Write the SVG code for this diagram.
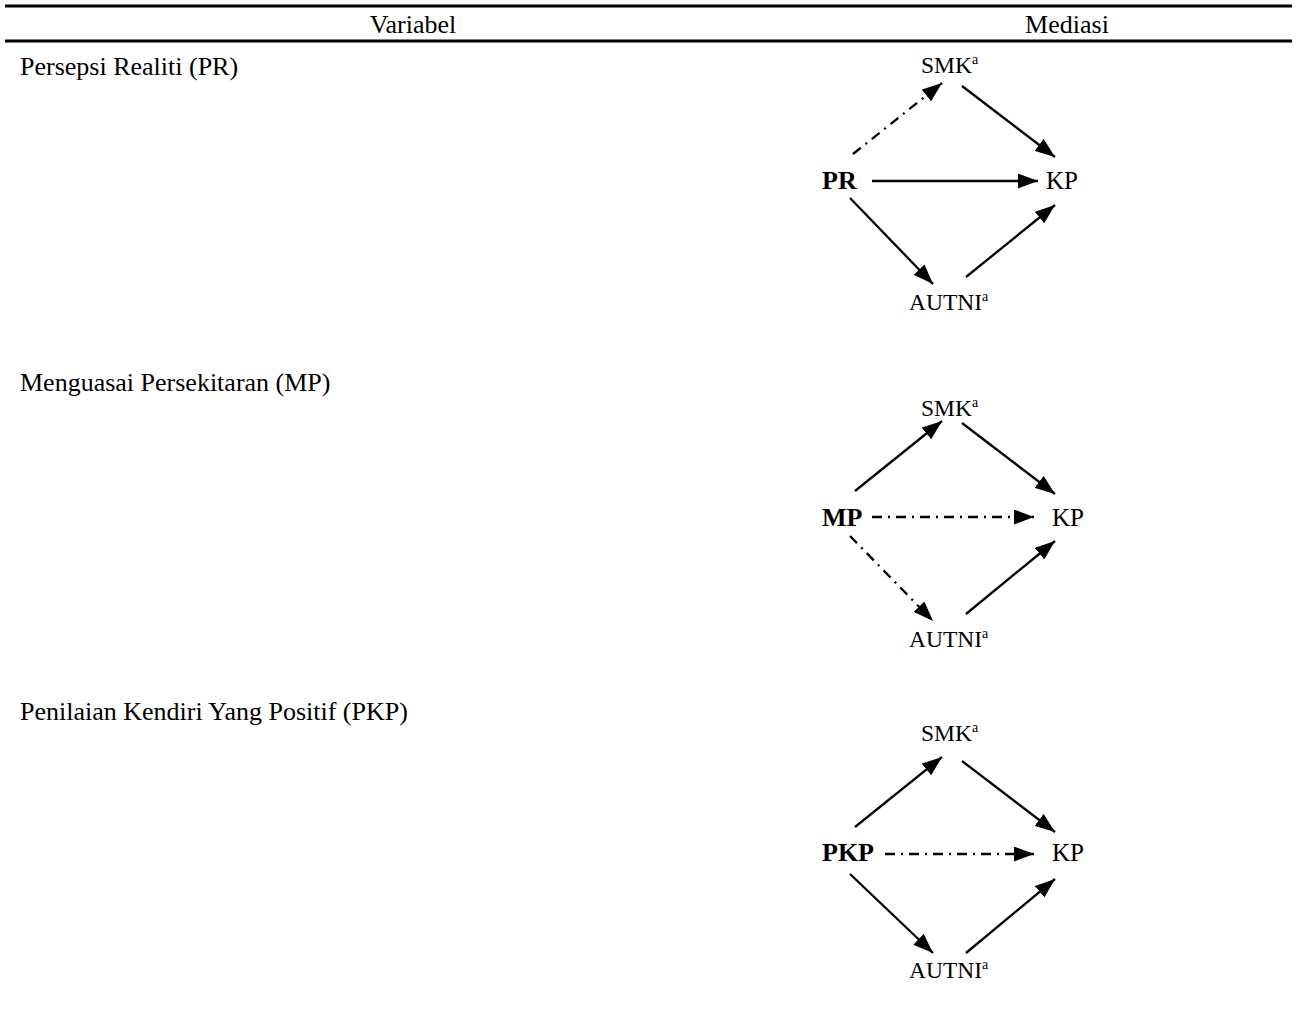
<svg xmlns="http://www.w3.org/2000/svg" width="1297" height="1017" viewBox="0 0 1297 1017">
<style>
text{font-family:"Liberation Serif","Times New Roman",serif;fill:#000}
.hdr{font-size:26px}
.lbl{font-size:26px}
.nd{font-size:23.5px}
.kp{font-size:25px}
.b{font-weight:bold;font-size:26px}
.sup{font-size:14px}
.rule{stroke:#000;stroke-width:3}
.ln{stroke:#000;stroke-width:2.3;fill:none}
.dd{stroke-dasharray:10 6 2 6}
</style>
<defs>
<marker id="ah" viewBox="0 0 20 15" refX="20" refY="7.5" markerWidth="20" markerHeight="15" markerUnits="userSpaceOnUse" orient="auto">
<path d="M0,0 L20,7.5 L0,15 z" fill="#000"/>
</marker>
</defs>
<rect width="1297" height="1017" fill="#fff"/>
<g id="header">
<line class="rule" x1="5" y1="6" x2="1292" y2="6"/>
<text class="hdr" x="413" y="33" text-anchor="middle">Variabel</text>
<text class="hdr" x="1067" y="33" text-anchor="middle">Mediasi</text>
<line class="rule" x1="5" y1="41" x2="1292" y2="41"/>
</g>
<g id="row-labels">
<text class="lbl" x="20" y="75">Persepsi Realiti (PR)</text>
<text class="lbl" x="20" y="391">Menguasai Persekitaran (MP)</text>
<text class="lbl" x="20" y="720">Penilaian Kendiri Yang Positif (PKP)</text>
</g>
<g id="d1-SMK"><text class="nd" x="921" y="73">SMK<tspan class="sup" dy="-9">a</tspan></text></g>
<g id="d1-PR"><text class="b" x="822" y="189">PR</text></g>
<g id="d1-KP"><text class="kp" x="1046" y="189">KP</text></g>
<g id="d1-AUTNI"><text class="nd" x="909" y="310">AUTNI<tspan class="sup" dy="-9">a</tspan></text></g>
<g id="d2-SMK"><text class="nd" x="921" y="416">SMK<tspan class="sup" dy="-9">a</tspan></text></g>
<g id="d2-MP"><text class="b" x="822" y="526">MP</text></g>
<g id="d2-KP"><text class="kp" x="1052" y="526">KP</text></g>
<g id="d2-AUTNI"><text class="nd" x="909" y="647">AUTNI<tspan class="sup" dy="-9">a</tspan></text></g>
<g id="d3-SMK"><text class="nd" x="921" y="741">SMK<tspan class="sup" dy="-9">a</tspan></text></g>
<g id="d3-PKP"><text class="b" x="822" y="861">PKP</text></g>
<g id="d3-KP"><text class="kp" x="1052" y="861">KP</text></g>
<g id="d3-AUTNI"><text class="nd" x="909" y="978">AUTNI<tspan class="sup" dy="-9">a</tspan></text></g>
<g id="connectors">
<line class="ln dd" x1="853" y1="154" x2="942" y2="83" marker-end="url(#ah)"/>
<line class="ln" x1="962" y1="86" x2="1055" y2="157" marker-end="url(#ah)"/>
<line class="ln" x1="872" y1="181" x2="1038" y2="181" marker-end="url(#ah)"/>
<line class="ln" x1="850" y1="198" x2="933" y2="284" marker-end="url(#ah)"/>
<line class="ln" x1="966" y1="277" x2="1055" y2="205" marker-end="url(#ah)"/>

<line class="ln" x1="855" y1="491" x2="942" y2="421" marker-end="url(#ah)"/>
<line class="ln" x1="962" y1="423" x2="1055" y2="494" marker-end="url(#ah)"/>
<line class="ln dd" x1="872" y1="517" x2="1034" y2="517" marker-end="url(#ah)"/>
<line class="ln dd" x1="850" y1="536" x2="933" y2="621" marker-end="url(#ah)"/>
<line class="ln" x1="966" y1="614" x2="1055" y2="541" marker-end="url(#ah)"/>

<line class="ln" x1="855" y1="827" x2="942" y2="757" marker-end="url(#ah)"/>
<line class="ln" x1="962" y1="761" x2="1055" y2="832" marker-end="url(#ah)"/>
<line class="ln dd" x1="885" y1="854" x2="1034" y2="854" marker-end="url(#ah)"/>
<line class="ln" x1="850" y1="874" x2="933" y2="953" marker-end="url(#ah)"/>
<line class="ln" x1="966" y1="953" x2="1055" y2="879" marker-end="url(#ah)"/>
</g>
</svg>
